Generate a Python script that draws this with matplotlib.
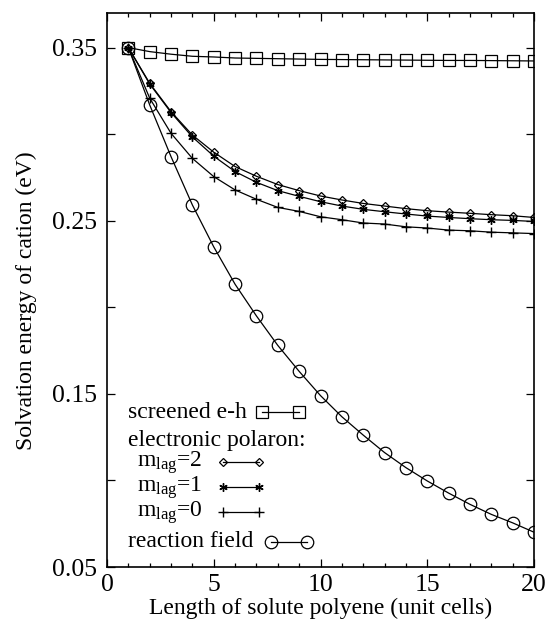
import numpy as np
import matplotlib
matplotlib.use("Agg")
import matplotlib.pyplot as plt

plt.rcParams['font.family'] = ['Liberation Serif', 'DejaVu Serif']
plt.rcParams['mathtext.fontset'] = 'custom'
plt.rcParams['mathtext.rm'] = 'Liberation Serif'
plt.rcParams['mathtext.it'] = 'Liberation Serif:italic'

#-------- data --------
length = list(range(1, 21))

screened_eh = [0.350, 0.3477, 0.3462, 0.3450, 0.3446, 0.3440, 0.3438, 0.3436, 0.3434, 0.3432,
               0.3431, 0.3430, 0.3429, 0.3428, 0.3427, 0.3426, 0.3426, 0.3425, 0.3424, 0.3423]
mlag2 = [0.350, 0.3294, 0.3130, 0.2995, 0.2896, 0.2813, 0.2757, 0.2709, 0.2674, 0.2643,
         0.2620, 0.2600, 0.2585, 0.2570, 0.2558, 0.2550, 0.2543, 0.2535, 0.2529, 0.2519]
mlag1 = [0.350, 0.3290, 0.3125, 0.2984, 0.2873, 0.2784, 0.2722, 0.2674, 0.2641, 0.2610,
         0.2585, 0.2566, 0.2552, 0.2539, 0.2527, 0.2519, 0.2512, 0.2506, 0.2502, 0.2496]
mlag0 = [0.350, 0.3208, 0.3005, 0.2860, 0.2755, 0.2678, 0.2624, 0.2577, 0.2554, 0.2523,
         0.2506, 0.2487, 0.2481, 0.2465, 0.2458, 0.2446, 0.2442, 0.2434, 0.2430, 0.2426]
reaction_field = [0.350, 0.3169, 0.2870, 0.2591, 0.2349, 0.2133, 0.1950, 0.1780, 0.1630, 0.1490,
                  0.1368, 0.1262, 0.1161, 0.1074, 0.0997, 0.0927, 0.0862, 0.0804, 0.0755, 0.0701]

ytick_vals = [0.05, 0.10, 0.15, 0.20, 0.25, 0.30, 0.35]
ytick_labels = ['0.05', '', '0.15', '', '0.25', '', '0.35']
xtick_vals = [0, 5, 10, 15, 20]

series = [
    ('screened e-h', screened_eh, dict(marker='s', ms=8.0, mfc='none', mew=0.9)),
    ('m$_{\\mathrm{lag}}$=2', mlag2, dict(marker='D', ms=4.2, mfc='none', mew=0.9)),
    ('m$_{\\mathrm{lag}}$=1', mlag1, dict(marker=(6, 2, 0), ms=6.0, mew=1.0)),
    ('m$_{\\mathrm{lag}}$=0', mlag0, dict(marker='+', ms=7.5, mew=1.0)),
    ('reaction field', reaction_field, dict(marker='o', ms=9.0, mfc='none', mew=0.9)),
]

fig = plt.figure(figsize=(5.46, 6.22), dpi=100)
ax = fig.add_axes([107/546, 1-567/622, 427/546, 554/622])

for name, vals, st in series:
    ax.plot(length, vals, color='black', lw=0.9, **st)

ax.set_xlim(0, 20)
ax.set_ylim(0.05, 0.37)
ax.set_xticks(xtick_vals)
ax.set_xticks(range(0, 21), minor=True)
ax.set_yticks(ytick_vals)
ax.set_yticklabels(ytick_labels)
ax.tick_params(which='both', direction='in', top=True, right=True, labelsize=18.5, width=0.9)
ax.tick_params(axis='y', pad=7)
ax.tick_params(axis='x', pad=5)
ax.tick_params(which='major', length=6)
ax.tick_params(which='minor', length=3)
for s in ax.spines.values():
    s.set_linewidth(1.2)

ax.set_xlabel('Length of solute polyene (unit cells)', fontsize=17, labelpad=1)
ax.set_ylabel('Solvation energy of cation (eV)', fontsize=17)
ax.yaxis.set_label_coords(-0.164, 0.48)

# hand-made key: text first, sample after it (gnuplot style)
def px(x, y):
    return ((x - 107) / 427, (567 - y) / 554)

key_rows = [
    ('screened e-h', 128, 418, 0, 262, 299, 412),
    ('electronic polaron:', 128, 446, None, 0, 0, 0),
    ('m$_{\\mathrm{lag}}$=2', 137, 467, 1, 223, 259, 462),
    ('m$_{\\mathrm{lag}}$=1', 137, 492, 2, 223, 259, 487),
    ('m$_{\\mathrm{lag}}$=0', 137, 517, 3, 223, 259, 512),
    ('reaction field', 128, 547, 4, 271, 307, 542),
]
for txt, tx, ty, idx, x0, x1, sy in key_rows:
    ax.text(*px(tx, ty), txt, transform=ax.transAxes, fontsize=17, va='baseline', ha='left')
    if idx is not None:
        st = series[idx][2]
        (a0, b0), (a1, b1) = px(x0, sy), px(x1, sy)
        ax.plot([a0, a1], [b0, b1], transform=ax.transAxes, color='black', lw=0.9,
                clip_on=False, **st)

fig.savefig('out.png', dpi=100)
